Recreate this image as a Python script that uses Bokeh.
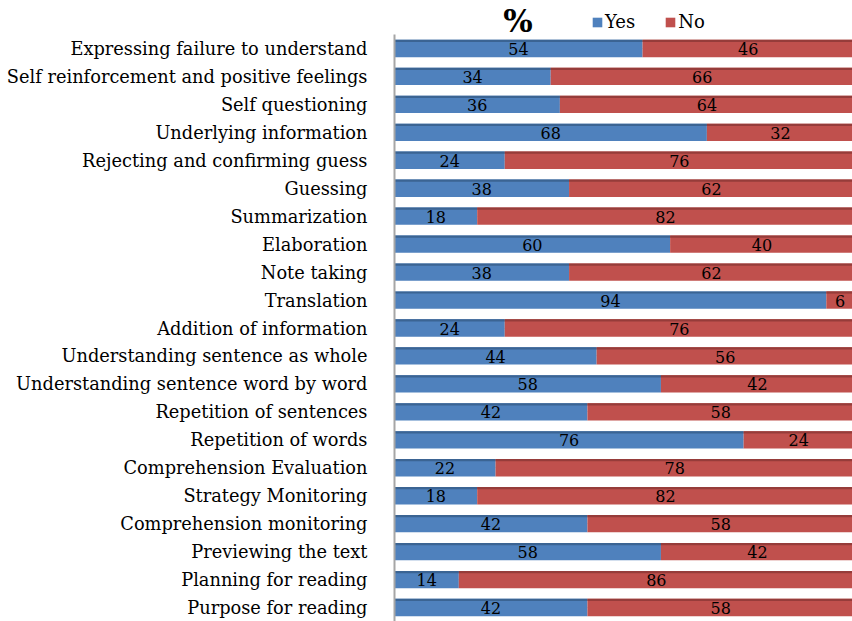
from bokeh.plotting import figure
from bokeh.layouts import column
from bokeh.models import ColumnDataSource, FactorRange, Range1d, Legend, LegendItem, Label
from bokeh.transform import dodge
from bokeh.core.properties import value
from bokeh.embed import file_html
from bokeh.resources import INLINE

categories = [
    "Expressing failure to understand",
    "Self reinforcement and positive feelings",
    "Self questioning",
    "Underlying information",
    "Rejecting and confirming guess",
    "Guessing",
    "Summarization",
    "Elaboration",
    "Note taking",
    "Translation",
    "Addition of information",
    "Understanding sentence as whole",
    "Understanding sentence word by word",
    "Repetition of sentences",
    "Repetition of words",
    "Comprehension Evaluation",
    "Strategy Monitoring",
    "Comprehension monitoring",
    "Previewing the text",
    "Planning for reading",
    "Purpose for reading",
]
yes_vals = [54, 34, 36, 68, 24, 38, 18, 60, 38, 94, 24, 44, 58, 42, 76, 22, 18, 42, 58, 14, 42]
no_vals = [46, 66, 64, 32, 76, 62, 82, 40, 62, 6, 76, 56, 42, 58, 24, 78, 82, 58, 42, 86, 58]
series = ["Yes", "No"]

BLUE = "#4F81BD"
RED = "#C0504D"
BLUE_D = "#3B6493"
RED_D = "#963C3A"
SERIF = "DejaVu Serif"

src = ColumnDataSource(dict(
    cat=categories,
    yes=yes_vals,
    no=no_vals,
    total=[a + b for a, b in zip(yes_vals, no_vals)],
    yes_mid=[a / 2 for a in yes_vals],
    no_mid=[a + b / 2 for a, b in zip(yes_vals, no_vals)],
    yes_txt=[str(v) for v in yes_vals],
    no_txt=[str(v) for v in no_vals],
))

xr = Range1d(0, 99.7)

p = figure(
    width=852, height=587,
    y_range=FactorRange(*reversed(categories)),
    x_range=xr,
    output_backend="svg", toolbar_location=None,
    min_border_left=394, min_border_top=0, min_border_bottom=0, min_border_right=0,
)
p.outline_line_color = None
p.xgrid.grid_line_color = None
p.ygrid.grid_line_color = "#E4E4E4"
p.xaxis.visible = False
p.background_fill_color = "white"
p.border_fill_color = "white"

p.hbar(y="cat", left=0, right="yes", height=0.62, fill_color=BLUE, line_color=None, source=src)
p.hbar(y="cat", left="yes", right="total", height=0.62, fill_color=RED, line_color=None, source=src)
# darker top edge (3D look)
p.hbar(y=dodge("cat", 0.27, range=p.y_range), left=0, right="yes", height=0.08,
       fill_color=BLUE_D, line_color=None, source=src)
p.hbar(y=dodge("cat", 0.27, range=p.y_range), left="yes", right="total", height=0.08,
       fill_color=RED_D, line_color=None, source=src)

p.text(x="yes_mid", y=dodge("cat", -0.02, range=p.y_range), text="yes_txt", source=src,
       text_align="center", text_baseline="middle", text_font=value(SERIF),
       text_font_size="16px", text_color="black")
p.text(x="no_mid", y=dodge("cat", -0.02, range=p.y_range), text="no_txt", source=src,
       text_align="center", text_baseline="middle", text_font=value(SERIF),
       text_font_size="16px", text_color="black")

yax = p.yaxis[0]
yax.major_tick_line_color = None
yax.minor_tick_line_color = None
yax.axis_line_color = "#A6A6A6"
yax.axis_line_width = 2
yax.major_label_text_font = SERIF
yax.major_label_text_font_size = "17.8px"
yax.major_label_text_color = "black"
yax.major_label_standoff = 21

# header strip with "%" and legend
top = figure(
    width=852, height=34, x_range=xr, y_range=Range1d(0, 1),
    output_backend="svg", toolbar_location=None,
    min_border_left=394, min_border_top=0, min_border_bottom=0, min_border_right=0,
)
top.axis.visible = False
top.grid.visible = False
top.outline_line_color = None
leg_src = ColumnDataSource(dict(y=[0.5], left=[0], right=[0]))
ry = top.hbar(y="y", left="left", right="right", height=0.5, fill_color=BLUE, line_color=None, source=leg_src)
rn = top.hbar(y="y", left="left", right="right", height=0.5, fill_color=RED, line_color=None, source=leg_src)
legend = Legend(
    items=[LegendItem(label=series[0], renderers=[ry]), LegendItem(label=series[1], renderers=[rn])],
    orientation="horizontal", location=(197, 2),
    background_fill_alpha=0, border_line_color=None,
    label_text_font=SERIF, label_text_font_size="18px", label_text_color="black",
    glyph_width=12, glyph_height=12, spacing=29, padding=0, margin=0,
    label_standoff=2,
)
top.add_layout(legend, "center")
top.add_layout(Label(x=23.7, y=-0.12, text="%", text_font=SERIF, text_font_size="31px",
                     text_font_style="bold", text_color="black", text_baseline="bottom"))

layout = column(top, p, spacing=0)
open("out.html", "w").write(file_html(layout, INLINE))
